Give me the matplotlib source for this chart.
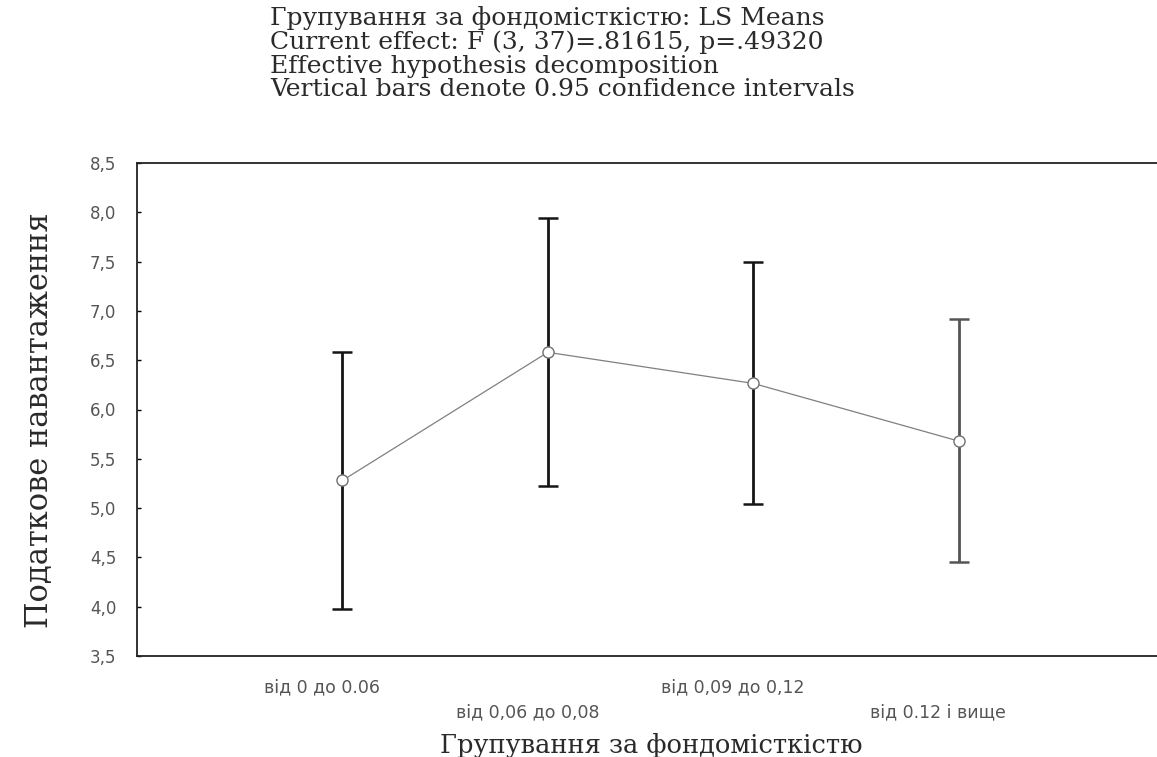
import matplotlib
matplotlib.use("Agg")
import matplotlib.pyplot as plt

# LS means and 95% confidence limits per group
categories = ["від 0 до 0.06", "від 0,06 до 0,08", "від 0,09 до 0,12", "від 0.12 і вище"]
means = [5.28, 6.58, 6.265, 5.68]
ci_low = [3.98, 5.22, 5.04, 4.45]
ci_high = [6.58, 7.945, 7.50, 6.915]

title_lines = [
    "Групування за фондомісткістю: LS Means",
    "Current effect: F (3, 37)=.81615, p=.49320",
    "Effective hypothesis decomposition",
    "Vertical bars denote 0.95 confidence intervals",
]
xlabel = "Групування за фондомісткістю"
ylabel = "Податкове навантаження"
yticks = [3.5, 4.0, 4.5, 5.0, 5.5, 6.0, 6.5, 7.0, 7.5, 8.0, 8.5]

W, H = 1157, 757
fig = plt.figure(figsize=(W / 100, H / 100), dpi=100)
ax = fig.add_axes([137 / W, 101 / H, 1027 / W, 493 / H])

x = list(range(1, len(categories) + 1))
yerr = [[m - lo for m, lo in zip(means, ci_low)],
        [hi - m for m, hi in zip(means, ci_high)]]
bar_colors = ["#151515", "#151515", "#151515", "#555555"]

ax.plot(x, means, color="#808080", lw=0.9, zorder=2)
for xi, m, lo, hi, c in zip(x, means, yerr[0], yerr[1], bar_colors):
    ax.errorbar([xi], [m], yerr=[[lo], [hi]], fmt="none", ecolor=c,
                elinewidth=2.0, capsize=7, capthick=1.8, zorder=3)
ax.plot(x, means, "o", ms=8, mfc="white", mec="#707070", mew=1.0, zorder=4)

ax.set_xlim(0, 5)
ax.set_ylim(3.5, 8.5)
ax.set_yticks(yticks)
ax.set_yticklabels([f"{v:.1f}".replace(".", ",") for v in yticks],
                   family="DejaVu Sans", fontsize=12, color="#555555")
ax.tick_params(axis="y", direction="in", length=3, width=1, pad=15)
ax.set_xticks([])
for s in ax.spines.values():
    s.set_linewidth(1.3)
    s.set_color("#222222")

# staggered category labels below the axis
for i, (xi, lab) in enumerate(zip(x, categories)):
    off = 0.063 if i % 2 == 0 else 0.114
    ax.text(xi - 0.1, -off, lab, transform=ax.get_xaxis_transform(),
            ha="center", va="center", family="DejaVu Sans",
            fontsize=12.5, color="#555555")

fig.text(651 / W, 1 - 745 / H, xlabel, ha="center", va="center",
         family="DejaVu Serif", fontsize=18.5, color="#2a2a2a")
fig.text(40 / W, 1 - 420 / H, ylabel, ha="center", va="center", rotation=90,
         family="DejaVu Serif", fontsize=22, color="#2a2a2a")

for k, line in enumerate(title_lines):
    fig.text(270 / W, 1 - (18 + 24 * k) / H, line, ha="left", va="center",
             family="DejaVu Serif", fontsize=18, color="#2a2a2a")

fig.savefig("out.png", dpi=100, facecolor="white")
